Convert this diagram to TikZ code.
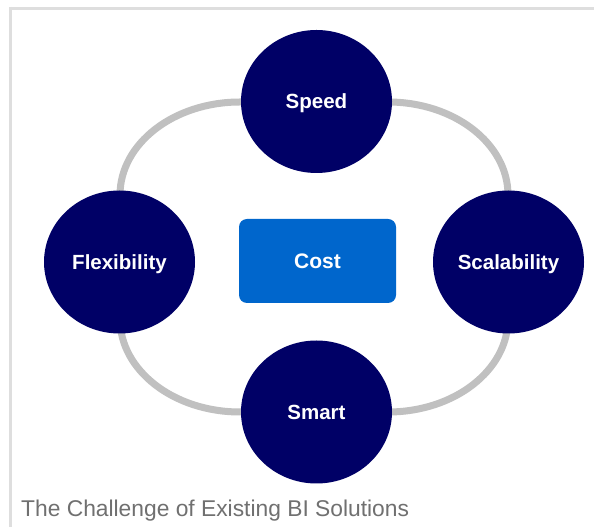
\documentclass[tikz,border=0pt]{standalone}
\usepackage{fontspec}
\setmainfont{Liberation Sans}
\usetikzlibrary{shapes.geometric}
\definecolor{navy}{HTML}{000066}
\definecolor{costblue}{HTML}{0066CC}
\definecolor{ringgray}{HTML}{C0C0C0}
\definecolor{framegray}{HTML}{DEDEDE}
\definecolor{captiongray}{HTML}{707070}
\tikzset{
  bubble/.style={ellipse, fill=navy, text=white, inner sep=0pt,
    minimum width=151pt, minimum height=143pt,
    text height=14.7pt, text depth=0pt,
    font=\fontsize{20.5}{24}\selectfont\bfseries},
  costbox/.style={rectangle, rounded corners=8pt, fill=costblue, text=white,
    minimum width=157pt, minimum height=84pt, inner sep=0pt,
    text height=15pt, text depth=0pt,
    font=\fontsize{21}{24}\selectfont\bfseries},
  ring/.style={draw=ringgray, line width=7pt},
  frameline/.style={draw=framegray, line width=3pt},
  caption/.style={text=captiongray, inner sep=0pt, anchor=base west,
    font=\fontsize{22.8}{26}\selectfont}
}
\begin{document}
\begin{tikzpicture}[x=1pt,y=1pt]
\useasboundingbox (0,0) rectangle (594,527);
\fill[white] (0,0) rectangle (594,527);
% frame
\draw[frameline] (9.3,518.5) -- (594,518.5);
\draw[frameline] (10.8,520) -- (10.8,0);
% ring
\draw[ring] (240,425) -- (388,425)
  arc[start angle=90,end angle=0,x radius=120,y radius=93]
  -- (508,208)
  arc[start angle=0,end angle=-90,x radius=120,y radius=93]
  -- (240,115)
  arc[start angle=270,end angle=180,x radius=120,y radius=93]
  -- (120,332)
  arc[start angle=180,end angle=90,x radius=120,y radius=93]
  -- cycle;
% nodes
\node[bubble] (speed) at (316.5,425.5) {Speed};
\node[bubble] (flex) at (119.5,265) {Flexibility};
\node[bubble] (scal) at (508.5,265) {Scalability};
\node[bubble] (smart) at (316.5,115) {Smart};
\node[costbox] (cost) at (317.5,266) {Cost};
\node[caption] (cap) at (21,10.5) {The Challenge of Existing BI Solutions};
\end{tikzpicture}
\end{document}
